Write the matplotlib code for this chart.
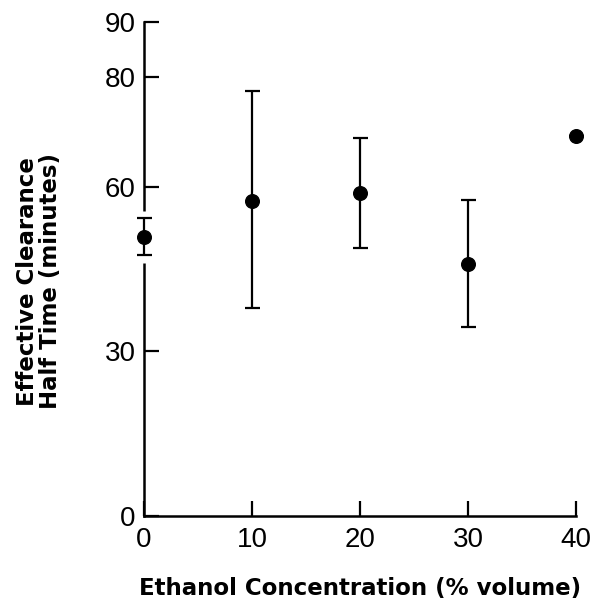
import matplotlib.pyplot as plt

# ethanol concentration (% volume) vs effective clearance half time (minutes)
conc = [0, 10, 20, 30, 40]
half_time = [50.8, 57.4, 58.8, 45.9, 69.2]
err_low = [47.5, 37.9, 48.8, 34.4, 69.2]
err_high = [54.3, 77.4, 68.9, 57.6, 69.2]

yticks = [0, 30, 60, 80, 90]
xticks = [0, 10, 20, 30, 40]

plt.rcParams['font.family'] = ['Liberation Sans', 'DejaVu Sans']

fig = plt.figure(figsize=(5.99, 6.02), dpi=100)
ax = fig.add_axes([0.240, 0.143, 0.722, 0.820])

lower = [h - lo for h, lo in zip(half_time, err_low)]
upper = [hi - h for h, hi in zip(half_time, err_high)]

# white gap in the y axis around the first error bar
ax.plot([conc[0], conc[0]], [err_low[0] - 1.3, err_high[0] + 1.3],
        color='white', lw=5, clip_on=False, zorder=3, solid_capstyle='butt')

ax.errorbar(conc, half_time, yerr=[lower, upper], fmt='o', color='black',
            markersize=9.8, capsize=5.4, capthick=1.6, elinewidth=1.6,
            clip_on=False, zorder=4)

ax.set_xlim(0, 40)
ax.set_ylim(0, 90)
ax.set_xticks(xticks)
ax.set_yticks(yticks)
ax.tick_params(direction='in', length=11, width=1.6, labelsize=20, pad=8)
ax.tick_params(axis='y', pad=6)

for side in ['top', 'right']:
    ax.spines[side].set_visible(False)
for side in ['left', 'bottom']:
    ax.spines[side].set_linewidth(1.8)

lab_font = dict(fontsize=16.5, fontweight='bold', family=['DejaVu Sans'])
ax.set_xlabel("Ethanol Concentration (% volume)", labelpad=17, **lab_font)
ax.set_ylabel("Effective Clearance\nHalf Time (minutes)", linespacing=1.0, **lab_font)
ax.yaxis.set_label_coords(-0.19, 0.475)

plt.savefig("out.png", dpi=100)
